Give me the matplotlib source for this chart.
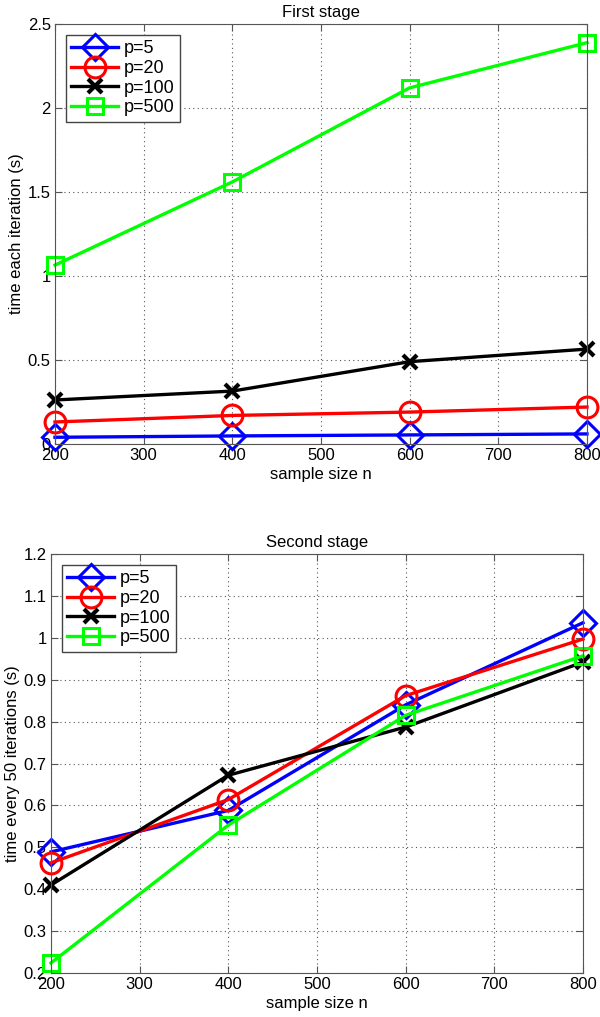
import matplotlib
matplotlib.use("Agg")
import matplotlib.pyplot as plt

plt.rcParams['font.family'] = ['Liberation Sans', 'DejaVu Sans']

n = [200, 400, 600, 800]
labels = ["p=5", "p=20", "p=100", "p=500"]

# first stage: time per iteration (s)
first_p5 = [0.04, 0.048, 0.054, 0.06]
first_p20 = [0.131, 0.17, 0.19, 0.22]
first_p100 = [0.262, 0.315, 0.49, 0.565]
first_p500 = [1.065, 1.56, 2.12, 2.389]

# second stage: time every 50 iterations (s)
second_p5 = [0.489, 0.588, 0.84, 1.036]
second_p20 = [0.463, 0.614, 0.862, 0.997]
second_p100 = [0.41, 0.672, 0.787, 0.942]
second_p500 = [0.224, 0.553, 0.815, 0.957]

styles = [
    dict(color="#0000ff", marker="D", markersize=13, markeredgewidth=2.2),
    dict(color="#ff0000", marker="o", markersize=15, markeredgewidth=2.2),
    dict(color="#000000", marker="x", markersize=10, markeredgewidth=3),
    dict(color="#00ff00", marker="s", markersize=11, markeredgewidth=2.2),
]


def draw(ax, series, ylim, yticks, title, ylabel):
    for vals, lab, st in zip(series, labels, styles):
        ax.plot(n, vals, label=lab, linewidth=2.4, markerfacecolor="none",
                clip_on=False, **st)
    ax.set_xlim(200, 800)
    ax.set_ylim(*ylim)
    ax.set_xticks([200, 300, 400, 500, 600, 700, 800])
    ax.set_yticks(yticks)
    ax.set_yticklabels([("%g" % t) for t in yticks])
    ax.grid(True, linestyle=(0, (1, 3)), color="#555555", linewidth=0.8)
    ax.tick_params(direction="in", length=5, labelsize=12, top=True, right=True,
                   color="#555555", pad=3)
    for sp in ax.spines.values():
        sp.set_color("#555555")
    ax.set_title(title, fontsize=12, pad=5)
    ax.set_xlabel("sample size n", fontsize=12, labelpad=3)
    ax.set_ylabel(ylabel, fontsize=12, labelpad=3)
    leg = ax.legend(loc="upper left", fontsize=13, handlelength=2.6, fancybox=False,
                    framealpha=1, edgecolor="#444444", borderpad=0.3,
                    labelspacing=0.15, handletextpad=0.3, borderaxespad=0.6)
    leg.get_frame().set_linewidth(1.0)


fig = plt.figure(figsize=(6.0, 10.17), dpi=100)
ax1 = fig.add_axes([55 / 600, 1 - 444 / 1017, 532 / 600, 420 / 1017])
ax2 = fig.add_axes([51 / 600, 1 - 973 / 1017, 532 / 600, 419 / 1017])

draw(ax1, [first_p5, first_p20, first_p100, first_p500], (0, 2.5),
     [0, 0.5, 1, 1.5, 2, 2.5], "First stage", "time each iteration (s)")
draw(ax2, [second_p5, second_p20, second_p100, second_p500], (0.2, 1.2),
     [0.2, 0.3, 0.4, 0.5, 0.6, 0.7, 0.8, 0.9, 1.0, 1.1, 1.2], "Second stage",
     "time every 50 iterations (s)")

fig.savefig("out.png", dpi=100)
